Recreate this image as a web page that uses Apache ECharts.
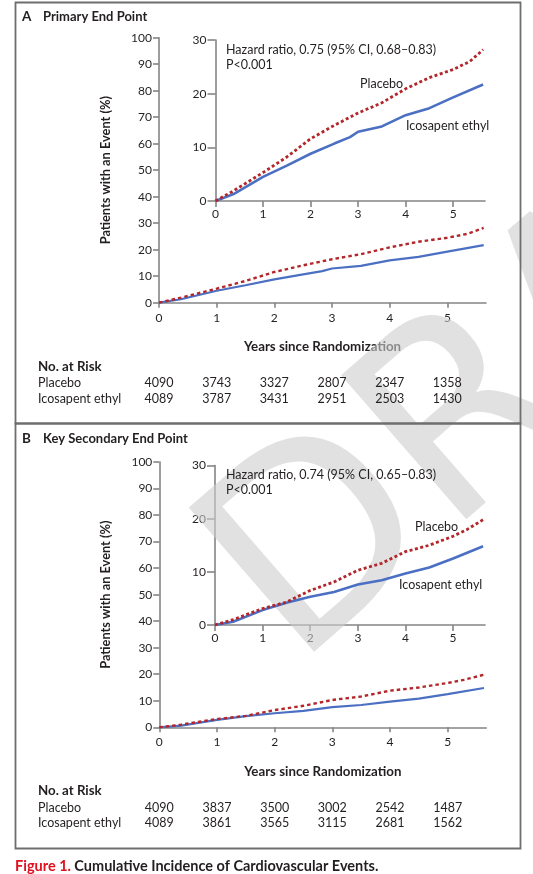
<!DOCTYPE html>
<html>
<head>
<meta charset="utf-8">
<script src="https://cdn.jsdelivr.net/npm/echarts@6/dist/echarts.min.js"></script>
<style>
html,body{margin:0;padding:0;background:#fff;}
#c{width:533px;height:874px;}
</style>
</head>
<body>
<div id="c"></div>
<script>
// ---------- DATA ----------
const yearTicks = [0, 1, 2, 3, 4, 5];
const mainYTicks = [0, 10, 20, 30, 40, 50, 60, 70, 80, 90, 100];
const insetYTicks = [0, 10, 20, 30];

// Panel A: Primary end point
const placeboYearsA = [0, 0.38, 1.0, 1.5, 2.0, 2.5, 3.0, 3.5, 4.0, 4.5, 5.0, 5.35, 5.63];
const placeboA      = [0, 1.9, 5.3, 8.2, 11.6, 14.1, 16.4, 18.3, 20.9, 23.0, 24.5, 26.0, 28.2];
const icoYearsA     = [0, 0.38, 1.0, 1.5, 2.0, 2.5, 2.83, 3.0, 3.5, 4.0, 4.5, 5.0, 5.63];
const icoA          = [0, 1.3, 4.5, 6.6, 8.8, 10.7, 11.9, 12.9, 13.9, 16.0, 17.3, 19.3, 21.7];

// Panel B: Key secondary end point
const placeboYearsB = [0, 0.38, 1.0, 1.5, 2.0, 2.5, 3.0, 3.5, 4.0, 4.5, 5.0, 5.28, 5.63];
const placeboB      = [0, 1.0, 3.1, 4.3, 6.5, 8.1, 10.3, 11.6, 13.8, 15.0, 16.7, 17.9, 19.8];
const icoYearsB     = [0, 0.38, 1.0, 1.5, 2.0, 2.5, 3.0, 3.5, 4.0, 4.5, 5.0, 5.63];
const icoB          = [0, 0.6, 2.8, 4.2, 5.3, 6.2, 7.6, 8.4, 9.7, 10.8, 12.5, 14.8];

// Numbers at risk
const riskPlaceboA = [4090, 3743, 3327, 2807, 2347, 1358];
const riskIcoA     = [4089, 3787, 3431, 2951, 2503, 1430];
const riskPlaceboB = [4090, 3837, 3500, 3002, 2542, 1487];
const riskIcoB     = [4089, 3861, 3565, 3115, 2681, 1562];

const titleA = 'Primary End Point';
const titleB = 'Key Secondary End Point';
const hrA = 'Hazard ratio, 0.75 (95% CI, 0.68\u20130.83)';
const hrB = 'Hazard ratio, 0.74 (95% CI, 0.65\u20130.83)';
const pText = 'P<0.001';
const yName = 'Patients with an Event (%)';
const xName = 'Years since Randomization';

// ---------- STYLE ----------
const FONT = 'Lato';
const TXT = '#231f20';
const AX = '#858585';
const RED = '#b3262a';
const BLUE = '#4b6fc2';
const XMAX = 5.67;

function zip(xs, ys) { return xs.map((x, i) => [x, ys[i]]); }

function xAxisCfg(gi, main) {
  return {
    type: 'value', gridIndex: gi, min: 0, max: XMAX,
    name: main ? xName : '', nameLocation: 'middle', nameGap: 38,
    nameTextStyle: {fontFamily: FONT, fontWeight: 'bold', fontSize: 13.3, color: TXT},
    axisLine: {show: true, onZero: false, lineStyle: {color: AX, width: 1.6}},
    axisTick: {show: true, length: main ? 5 : 6, customValues: yearTicks, lineStyle: {color: AX, width: 1.6}},
    axisLabel: {customValues: yearTicks, fontFamily: FONT, fontSize: 12, color: TXT, margin: main ? 9 : 7},
    splitLine: {show: false}
  };
}
function yAxisCfg(gi, main) {
  return {
    type: 'value', gridIndex: gi, min: 0, max: main ? 100 : 30, interval: 10,
    name: main ? yName : '', nameLocation: 'middle', nameGap: 47, nameRotate: 90,
    nameTextStyle: {fontFamily: FONT, fontWeight: 'bold', fontSize: 12.8, color: TXT},
    axisLine: {show: true, lineStyle: {color: AX, width: 1.6}},
    axisTick: {show: true, length: main ? 6 : 8, lineStyle: {color: AX, width: 1.6}},
    axisLabel: {fontFamily: FONT, fontSize: 12, color: TXT, margin: main ? 7 : 9},
    splitLine: {show: false}
  };
}
function lineSeries(gi, data, color, dotted, w, dash) {
  return {
    type: 'line', xAxisIndex: gi, yAxisIndex: gi, data: data,
    showSymbol: false, symbol: 'none', z: 5,
    lineStyle: {color: color, width: w, type: dotted ? dash : 'solid', cap: 'butt'},
    silent: true, animation: false
  };
}

const chart = echarts.init(document.getElementById('c'), null, {renderer: 'canvas'});

const option = {
  animation: false,
  backgroundColor: '#fff',
  grid: [
    {left: 159, top: 37.7, width: 327, height: 265},
    {left: 215.5, top: 40, width: 269.5, height: 161},
    {left: 159.3, top: 462, width: 327, height: 265.3},
    {left: 215, top: 465.5, width: 270, height: 159.5}
  ],
  xAxis: [xAxisCfg(0, true), xAxisCfg(1, false), xAxisCfg(2, true), xAxisCfg(3, false)],
  yAxis: [yAxisCfg(0, true), yAxisCfg(1, false), yAxisCfg(2, true), yAxisCfg(3, false)],
  series: [
    lineSeries(0, zip(icoYearsA, icoA), BLUE, false, 2.2),
    lineSeries(0, zip(placeboYearsA, placeboA), RED, true, 2.4, [3.5, 3]),
    lineSeries(1, zip(icoYearsA, icoA), BLUE, false, 2.6),
    lineSeries(1, zip(placeboYearsA, placeboA), RED, true, 2.8, [3, 2.5]),
    lineSeries(2, zip(icoYearsB, icoB), BLUE, false, 2.2),
    lineSeries(2, zip(placeboYearsB, placeboB), RED, true, 2.4, [3.5, 3]),
    lineSeries(3, zip(icoYearsB, icoB), BLUE, false, 2.6),
    lineSeries(3, zip(placeboYearsB, placeboB), RED, true, 2.8, [3, 2.5])
  ]
};
chart.setOption(option);

// ---------- GRAPHIC (text, frames, risk table, watermark) ----------
function txt(x, y, text, opts) {
  opts = opts || {};
  return {
    type: 'text', x: x, y: y, z: opts.z || 20, silent: true,
    style: {
      text: text, fill: opts.fill || TXT,
      font: (opts.weight || 'normal') + ' ' + (opts.size || 12) + 'px ' + FONT,
      align: opts.align || 'left', verticalAlign: 'middle'
    }
  };
}

const g = [];
// Watermark
g.push({
  type: 'text', x: 336, y: 716, rotation: 41 * Math.PI / 180, z: 1, silent: true,
  style: {text: 'DRAFT', fill: 'rgba(205,205,205,0.6)', font: 'normal 262px "DejaVu Sans"',
          align: 'left', verticalAlign: 'bottom'}
});
// Frames
g.push({type: 'rect', z: 15, silent: true, shape: {x: 15.5, y: 2.5, width: 505, height: 421},
        style: {fill: 'none', stroke: '#6e6e6e', lineWidth: 1.8}});
g.push({type: 'rect', z: 15, silent: true, shape: {x: 15.5, y: 423.5, width: 505, height: 425},
        style: {fill: 'none', stroke: '#6e6e6e', lineWidth: 1.8}});
// Titles
g.push(txt(22, 16.5, 'A', {weight: 'bold', size: 13.5}));
g.push(txt(43, 16.5, titleA, {weight: 'bold', size: 13}));
g.push(txt(22, 438.5, 'B', {weight: 'bold', size: 13.5}));
g.push(txt(43, 438.5, titleB, {weight: 'bold', size: 13}));
// Hazard text
g.push(txt(226, 50, hrA, {size: 12.5}));
g.push(txt(226, 65, pText, {size: 12.5}));
g.push(txt(226, 475, hrB, {size: 12.5}));
g.push(txt(226, 489.5, pText, {size: 12.5}));
// Curve labels
g.push(txt(360, 83.5, 'Placebo', {size: 12.5}));
g.push(txt(406, 126, 'Icosapent ethyl', {size: 12.5}));
g.push(txt(415, 526.5, 'Placebo', {size: 12.5}));
g.push(txt(399, 584.5, 'Icosapent ethyl', {size: 12.5}));
// Risk tables
function riskTable(gi, yTop, plac, ico) {
  g.push(txt(38, yTop, 'No. at Risk', {weight: 'bold', size: 13.3}));
  g.push(txt(38, yTop + 16.5, 'Placebo', {size: 12.5}));
  g.push(txt(38, yTop + 32.3, 'Icosapent ethyl', {size: 12.5}));
  yearTicks.forEach((yr, i) => {
    const px = chart.convertToPixel({gridIndex: gi}, [yr, 0])[0];
    g.push(txt(px, yTop + 16.5, String(plac[i]), {size: 12.5, align: 'center'}));
    g.push(txt(px, yTop + 32.3, String(ico[i]), {size: 12.5, align: 'center'}));
  });
}
riskTable(0, 366.4, riskPlaceboA, riskIcoA);
riskTable(2, 791, riskPlaceboB, riskIcoB);
// Caption
g.push({
  type: 'text', x: 15, y: 866, z: 20, silent: true,
  style: {
    text: '{r|Figure 1.} {k|Cumulative Incidence of Cardiovascular Events.}',
    verticalAlign: 'middle', align: 'left',
    rich: {
      r: {fill: '#e0101f', font: 'bold 14.5px ' + FONT},
      k: {fill: TXT, font: 'bold 14.5px ' + FONT}
    }
  }
});

chart.setOption({graphic: {elements: g}});
</script>
</body>
</html>
